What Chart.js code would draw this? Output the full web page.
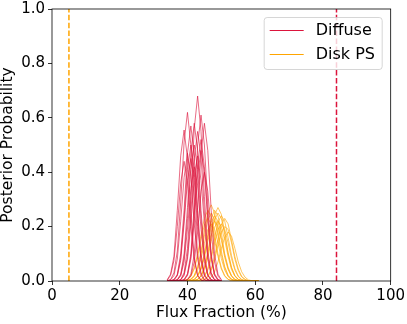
<!DOCTYPE html>
<html>
<head>
<meta charset="utf-8">
<script src="https://cdn.jsdelivr.net/npm/chart.js@4"></script>
<style>
  html, body { margin: 0; padding: 0; background: #fff; }
  canvas { display: block; }
</style>
</head>
<body>
<canvas id="posterior-chart" width="407" height="324"></canvas>
<script>
// Flux fraction grids (%) the posteriors are sampled on
const diffuseGrid = [34, 35, 36, 37, 38, 39, 40, 41, 42, 43, 44, 45, 46, 47, 48, 49, 50];
const diskGrid = [36, 37, 38, 39, 40, 41, 42, 43, 44, 45, 46, 47, 48, 49, 50, 51, 52, 53, 54, 55, 56, 57, 58, 59, 60, 61];

// Diffuse posteriors, one row per run
const diffusePosteriors = [
  [0, 0, 0, 0.001, 0.005, 0.03, 0.12, 0.31, 0.56, 0.68, 0.55, 0.31, 0.11, 0.03, 0.005, 0.001, 0],
  [0.001, 0.005, 0.03, 0.11, 0.29, 0.51, 0.62, 0.50, 0.29, 0.10, 0.03, 0.005, 0.001, 0, 0, 0, 0],
  [0.004, 0.025, 0.09, 0.26, 0.46, 0.555, 0.45, 0.25, 0.09, 0.02, 0.004, 0, 0, 0, 0, 0, 0],
  [0, 0, 0, 0, 0.001, 0.005, 0.027, 0.10, 0.28, 0.50, 0.61, 0.50, 0.28, 0.10, 0.027, 0.005, 0.001],
  [0, 0, 0, 0, 0, 0.001, 0.005, 0.025, 0.10, 0.27, 0.47, 0.58, 0.48, 0.26, 0.10, 0.025, 0.005],
  [0, 0.001, 0.004, 0.02, 0.085, 0.23, 0.41, 0.50, 0.41, 0.23, 0.08, 0.02, 0.004, 0.001, 0, 0, 0],
  [0, 0, 0.001, 0.005, 0.025, 0.10, 0.27, 0.47, 0.58, 0.48, 0.26, 0.10, 0.025, 0.005, 0.001, 0, 0],
  [0, 0, 0, 0.001, 0.004, 0.025, 0.09, 0.25, 0.45, 0.55, 0.46, 0.25, 0.09, 0.025, 0.004, 0.001, 0],
  [0, 0.001, 0.004, 0.02, 0.075, 0.21, 0.37, 0.45, 0.37, 0.20, 0.075, 0.02, 0.004, 0.001, 0, 0, 0],
  [0, 0, 0, 0, 0.001, 0.004, 0.02, 0.08, 0.22, 0.39, 0.48, 0.40, 0.22, 0.08, 0.02, 0.004, 0.001],
  [0, 0, 0.001, 0.004, 0.02, 0.07, 0.19, 0.34, 0.42, 0.35, 0.19, 0.07, 0.02, 0.004, 0.001, 0, 0],
  [0.001, 0.004, 0.02, 0.08, 0.22, 0.38, 0.47, 0.39, 0.21, 0.08, 0.02, 0.004, 0.001, 0, 0, 0, 0],
  [0, 0, 0, 0.001, 0.004, 0.02, 0.08, 0.21, 0.38, 0.46, 0.37, 0.21, 0.08, 0.02, 0.004, 0.001, 0],
  [0, 0, 0, 0, 0, 0.001, 0.004, 0.018, 0.07, 0.18, 0.33, 0.40, 0.33, 0.18, 0.07, 0.018, 0.004],
  [0, 0.001, 0.005, 0.025, 0.10, 0.26, 0.47, 0.57, 0.46, 0.26, 0.10, 0.025, 0.005, 0.001, 0, 0, 0],
  [0, 0, 0, 0, 0.001, 0.004, 0.023, 0.09, 0.24, 0.43, 0.52, 0.42, 0.24, 0.09, 0.023, 0.004, 0.001],
  [0.003, 0.02, 0.075, 0.20, 0.36, 0.44, 0.36, 0.20, 0.075, 0.02, 0.003, 0, 0, 0, 0, 0, 0],
  [0, 0, 0.001, 0.004, 0.02, 0.085, 0.23, 0.41, 0.50, 0.41, 0.23, 0.085, 0.02, 0.004, 0.001, 0, 0]
];

// Disk PS posteriors, one row per run
const diskPosteriors = [
  [0, 0, 0, 0, 0.002, 0.007, 0.021, 0.053, 0.11, 0.185, 0.25, 0.28, 0.25, 0.185, 0.11, 0.053, 0.021, 0.007, 0.002, 0, 0, 0, 0, 0, 0, 0],
  [0, 0, 0, 0, 0, 0, 0.002, 0.006, 0.019, 0.048, 0.098, 0.165, 0.225, 0.25, 0.23, 0.17, 0.10, 0.048, 0.019, 0.006, 0.002, 0, 0, 0, 0, 0],
  [0, 0, 0, 0, 0, 0.002, 0.006, 0.02, 0.049, 0.10, 0.17, 0.23, 0.26, 0.24, 0.18, 0.10, 0.05, 0.02, 0.006, 0.002, 0, 0, 0, 0, 0, 0],
  [0, 0, 0, 0, 0, 0, 0, 0.001, 0.006, 0.018, 0.046, 0.094, 0.158, 0.216, 0.24, 0.22, 0.16, 0.094, 0.046, 0.018, 0.006, 0.001, 0, 0, 0, 0],
  [0, 0, 0, 0, 0, 0, 0, 0, 0.001, 0.005, 0.015, 0.038, 0.078, 0.132, 0.18, 0.20, 0.19, 0.14, 0.08, 0.038, 0.015, 0.005, 0.001, 0, 0, 0],
  [0, 0, 0, 0.001, 0.006, 0.017, 0.044, 0.09, 0.152, 0.207, 0.23, 0.21, 0.15, 0.09, 0.044, 0.017, 0.006, 0.001, 0, 0, 0, 0, 0, 0, 0, 0],
  [0, 0, 0, 0, 0, 0, 0.001, 0.005, 0.017, 0.042, 0.086, 0.145, 0.198, 0.22, 0.20, 0.15, 0.09, 0.042, 0.017, 0.005, 0.001, 0, 0, 0, 0, 0],
  [0, 0, 0, 0, 0.002, 0.006, 0.019, 0.048, 0.098, 0.165, 0.225, 0.25, 0.225, 0.165, 0.098, 0.048, 0.019, 0.006, 0.002, 0, 0, 0, 0, 0, 0, 0],
  [0, 0, 0, 0, 0, 0, 0, 0.001, 0.005, 0.016, 0.04, 0.082, 0.139, 0.189, 0.21, 0.19, 0.14, 0.082, 0.04, 0.016, 0.005, 0.001, 0, 0, 0, 0],
  [0, 0, 0, 0, 0, 0.001, 0.005, 0.017, 0.042, 0.086, 0.145, 0.198, 0.22, 0.20, 0.15, 0.086, 0.042, 0.017, 0.005, 0.001, 0, 0, 0, 0, 0, 0],
  [0, 0, 0, 0, 0, 0, 0, 0, 0, 0.001, 0.004, 0.014, 0.034, 0.07, 0.119, 0.162, 0.18, 0.165, 0.12, 0.07, 0.034, 0.014, 0.004, 0.001, 0, 0],
  [0, 0, 0, 0.002, 0.006, 0.02, 0.049, 0.10, 0.17, 0.23, 0.26, 0.235, 0.17, 0.10, 0.049, 0.02, 0.006, 0.002, 0, 0, 0, 0, 0, 0, 0, 0],
  [0, 0, 0, 0, 0, 0, 0.002, 0.006, 0.02, 0.051, 0.105, 0.178, 0.243, 0.27, 0.245, 0.18, 0.105, 0.051, 0.02, 0.006, 0.002, 0, 0, 0, 0, 0],
  [0, 0, 0, 0, 0.001, 0.005, 0.016, 0.04, 0.082, 0.139, 0.189, 0.21, 0.19, 0.14, 0.082, 0.04, 0.016, 0.005, 0.001, 0, 0, 0, 0, 0, 0, 0],
  [0, 0, 0, 0, 0, 0, 0, 0, 0.001, 0.006, 0.017, 0.044, 0.09, 0.152, 0.207, 0.23, 0.21, 0.15, 0.09, 0.044, 0.017, 0.006, 0.001, 0, 0, 0],
  [0, 0, 0, 0, 0, 0.001, 0.006, 0.018, 0.046, 0.094, 0.158, 0.216, 0.24, 0.22, 0.16, 0.094, 0.046, 0.018, 0.006, 0.001, 0, 0, 0, 0, 0, 0]
];

// True (injected) flux fractions, drawn as dashed lines
const diskTrueFlux = 5;
const diffuseTrueFlux = 84;

const seriesNames = ['Diffuse', 'Disk PS'];
const DIFFUSE = '#DC143C';
const DISK = '#FFA500';
const FONT = 'DejaVu Sans';

function toPoints(grid, values) {
    return grid.map((x, i) => ({ x: x, y: values[i] }));
}

function posteriorDataset(points, color) {
    return {
        data: points,
        borderColor: color + 'b3',
        borderWidth: 0.9,
        pointRadius: 0,
        tension: 0,
        fill: false
    };
}

function trueLine(x, color) {
    return {
        data: [{ x: x, y: 0 }, { x: x, y: 1 }],
        borderColor: color,
        borderWidth: 1.5,
        borderDash: [5.5, 2.4],
        pointRadius: 0,
        fill: false
    };
}

let datasets = [];
diffusePosteriors.forEach(row => datasets.push(posteriorDataset(toPoints(diffuseGrid, row), DIFFUSE)));
diskPosteriors.forEach(row => datasets.push(posteriorDataset(toPoints(diskGrid, row), DISK)));
datasets.push(trueLine(diskTrueFlux, DISK));
datasets.push(trueLine(diffuseTrueFlux, DIFFUSE));

// Frame and matplotlib-style legend box
const framePlugin = {
    id: 'frame',
    afterDraw(chart) {
        const { ctx, chartArea: a } = chart;
        ctx.save();
        ctx.strokeStyle = '#000';
        ctx.lineWidth = 0.8;
        ctx.strokeRect(a.left, a.top, a.right - a.left, a.bottom - a.top);

        const bx = a.right - 127, by = a.top + 8, bw = 118, bh = 52;
        ctx.beginPath();
        ctx.roundRect(bx + 0.5, by + 0.5, bw, bh, 3);
        ctx.fillStyle = 'rgba(255,255,255,0.8)';
        ctx.fill();
        ctx.strokeStyle = '#cccccc';
        ctx.lineWidth = 0.8;
        ctx.stroke();

        const colors = [DIFFUSE, DISK];
        ctx.font = '16px "' + FONT + '"';
        ctx.textBaseline = 'middle';
        ctx.fillStyle = '#000';
        seriesNames.forEach((name, i) => {
            const y = by + 13.5 + i * 24;
            ctx.beginPath();
            ctx.moveTo(bx + 6, y);
            ctx.lineTo(bx + 40, y);
            ctx.strokeStyle = colors[i];
            ctx.lineWidth = 1.2;
            ctx.stroke();
            ctx.fillText(name, bx + 52, y);
        });
        ctx.restore();
    }
};

new Chart(document.getElementById('posterior-chart'), {
    type: 'line',
    data: { datasets: datasets },
    options: {
        responsive: false,
        animation: false,
        layout: { padding: { left: 0, top: 0, right: 15, bottom: 0 } },
        plugins: { legend: { display: false }, tooltip: { enabled: false } },
        scales: {
            x: {
                type: 'linear',
                min: 0,
                max: 100,
                ticks: { stepSize: 20, color: '#000', padding: 2, font: { family: FONT, size: 15 } },
                grid: { drawOnChartArea: false, tickLength: 4, color: '#000', lineWidth: 0.8 },
                border: { display: false },
                title: { display: true, text: 'Flux Fraction (%)', color: '#000', padding: { top: 0, bottom: 3 }, font: { family: FONT, size: 15.5, lineHeight: 1 } },
                afterFit: s => { s.height = 43; }
            },
            y: {
                min: 0,
                max: 1,
                ticks: { stepSize: 0.2, color: '#000', padding: 3, font: { family: FONT, size: 15, lineHeight: 0.8 },
                         callback: v => v.toFixed(1) },
                grid: { drawOnChartArea: false, tickLength: 4, color: '#000', lineWidth: 0.8 },
                border: { display: false },
                title: { display: true, text: 'Posterior Probability', color: '#000', padding: { top: 0, bottom: 0 }, font: { family: FONT, size: 15.5, lineHeight: 1 } },
                afterFit: s => { s.width = 52; }
            }
        }
    },
    plugins: [framePlugin]
});
</script>
</body>
</html>
